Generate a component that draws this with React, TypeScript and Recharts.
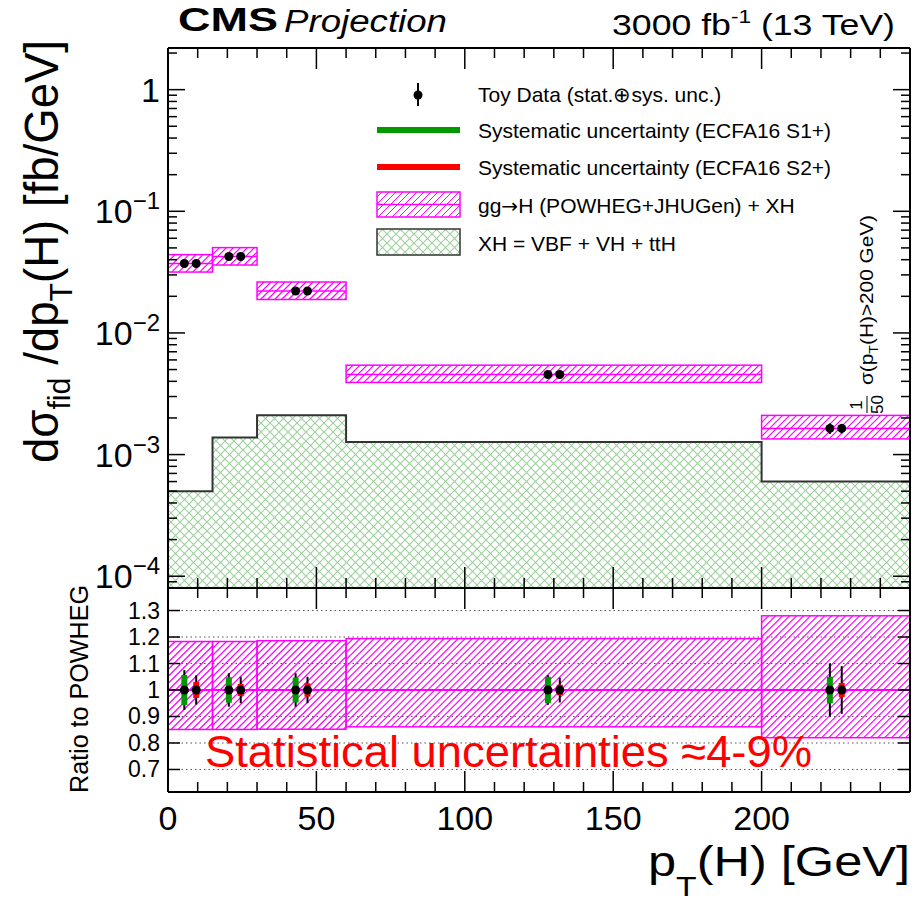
import React from "react";
import {
  ComposedChart, XAxis, YAxis, Line, Scatter, ErrorBar,
  ReferenceArea, ReferenceLine, CartesianGrid,
} from "recharts";

// pT(H) bins [GeV]; the last bin is the >200 GeV overflow drawn as 200-250
const binLo = [0, 15, 30, 60, 200];
const binHi = [15, 30, 60, 200, 250];

// gg->H (POWHEG+JHUGen) + XH [fb/GeV] and its relative band
const powheg = [0.0372, 0.0425, 0.0221, 0.00455, 0.00164];
const bandUp = [1.183, 1.183, 1.186, 1.194, 1.28];
const bandDown = [0.851, 0.851, 0.852, 0.861, 0.82];

// XH = VBF + VH + ttH [fb/GeV]
const xh = [0.0005, 0.00138, 0.00211, 0.00127, 0.0006];

// toy data, ratio to POWHEG, with total and systematic uncertainties
const s1Ratio = [1, 1, 1, 1, 1];
const s2Ratio = [1, 1, 1, 1, 1];
const s1Total = [0.075, 0.063, 0.063, 0.056, 0.1];
const s1Sys = [0.057, 0.048, 0.047, 0.05, 0.05];
const s2Total = [0.055, 0.05, 0.05, 0.047, 0.09];
const s2Sys = [0.03, 0.023, 0.025, 0.02, 0.027];

// ticks
const xTicks = [0, 10, 20, 30, 40, 50, 60, 70, 80, 90, 100, 110, 120, 130, 140, 150, 160, 170, 180, 190, 200, 210, 220, 230, 240, 250];
const xTickLabels = [0, 50, 100, 150, 200];
const yDecades = [1e-5, 1e-4, 1e-3, 1e-2, 1e-1, 1];
const yMantissas = [1, 2, 3, 4, 5, 6, 7, 8, 9];
const ratioTicks = [0.7, 0.8, 0.9, 1, 1.1, 1.2, 1.3];
const ratioTickLabels = ["0.7", "0.8", "0.9", "1", "1.1", "1.2", "1.3"];

const Y_MIN = 8e-5;
const Y_MAX = 2.2;
const R_MIN = 0.615;
const R_MAX = 1.385;
const SHIFT = 2; // S1 / S2 points are drawn side by side in each bin

const FONT = "'Liberation Sans', Arial, Helvetica, sans-serif";
const MAGENTA = "#ff00ff";
const GREEN = "#009a00";
const RED = "#ff0000";

const yTicks: number[] = [];
yDecades.forEach((d) => yMantissas.forEach((m) => {
  const v = d * m;
  if (v >= Y_MIN && v <= Y_MAX) yTicks.push(v);
}));

const centers = binLo.map((lo, i) => (lo + binHi[i]) / 2);
const xhLine = [...binLo.map((lo, i) => ({ x: lo, y: xh[i] })), { x: binHi[binHi.length - 1], y: xh[xh.length - 1] }];

const upperS1 = centers.map((c, i) => ({ x: c - SHIFT, y: powheg[i] * s1Ratio[i], err: powheg[i] * s1Total[i] }));
const upperS2 = centers.map((c, i) => ({ x: c + SHIFT, y: powheg[i] * s2Ratio[i], err: powheg[i] * s2Total[i] }));
const ratioS1 = centers.map((c, i) => ({ x: c - SHIFT, y: s1Ratio[i], tot: s1Total[i], sys: s1Sys[i] }));
const ratioS2 = centers.map((c, i) => ({ x: c + SHIFT, y: s2Ratio[i], tot: s2Total[i], sys: s2Sys[i] }));

const isDecade = (v: number) => {
  const l = Math.log10(v);
  return Math.abs(l - Math.round(l)) < 1e-6;
};

const xTick = (dir: number, labels: boolean) => (p: any) => {
  const v = p.payload.value;
  const major = v % 50 === 0;
  return (
    <g>
      <line x1={p.x} x2={p.x} y1={p.y} y2={p.y + dir * (major ? 21 : 10)} stroke="#000" strokeWidth={1.5} />
      {labels && xTickLabels.includes(v) && (
        <text x={p.x} y={p.y + 38} textAnchor="middle" fontSize={34} fontFamily={FONT} fill="#000">{v}</text>
      )}
    </g>
  );
};

const logTick = (dir: number, labels: boolean) => (p: any) => {
  const v = p.payload.value;
  const dec = isDecade(v);
  const e = Math.round(Math.log10(v));
  return (
    <g>
      <line x1={p.x} x2={p.x + dir * (dec ? 17 : 9)} y1={p.y} y2={p.y} stroke="#000" strokeWidth={1.5} />
      {labels && dec && (
        <text x={p.x - 8} y={p.y + 12} textAnchor="end" fontSize={34} fontFamily={FONT} fill="#000">
          {e === 0 ? "1" : <>10<tspan dy={-14} fontSize={24}>{"\u2212" + -e}</tspan></>}
        </text>
      )}
    </g>
  );
};

const ratioTick = (dir: number, labels: boolean) => (p: any) => {
  const i = ratioTicks.indexOf(p.payload.value);
  return (
    <g>
      <line x1={p.x} x2={p.x + dir * 12} y1={p.y} y2={p.y} stroke="#000" strokeWidth={1.5} />
      {labels && i >= 0 && (
        <text x={p.x - 8} y={p.y + 8} textAnchor="end" fontSize={23} fontFamily={FONT} fill="#000">{ratioTickLabels[i]}</text>
      )}
    </g>
  );
};

// hatched box: 45 degree lines cut to the rectangle Recharts computes for the area
const hatchBox = (step: number) => (p: any) => {
  const x = Math.min(p.x, p.x + p.width);
  const y = Math.min(p.y, p.y + p.height);
  const w = Math.abs(p.width);
  const h = Math.abs(p.height);
  const lines = [];
  for (let k = -h; k < w; k += step) {
    const s0 = Math.max(0, -k);
    const s1 = Math.min(h, w - k);
    if (s1 <= s0) continue;
    lines.push(
      <line key={lines.length} x1={x + k + s0} y1={y + h - s0} x2={x + k + s1} y2={y + h - s1}
        stroke={MAGENTA} strokeWidth={1.2} />
    );
  }
  return (
    <g>
      {lines}
      <rect x={x} y={y} width={w} height={h} fill="none" stroke={MAGENTA} strokeWidth={1.5} />
    </g>
  );
};

const dot = (p: any) => <circle cx={p.cx} cy={p.cy} r={4.5} fill="#000" />;
const none = () => <g />;
const axisLine = { stroke: "#000", strokeWidth: 2 };

function UpperPanel() {
  return (
    <ComposedChart width={914} height={600} margin={{ top: 47, right: 3, bottom: 11, left: 167 }}>
      <XAxis xAxisId={0} type="number" dataKey="x" domain={[0, 250]} allowDataOverflow ticks={xTicks} interval={0}
        height={1} tickSize={0} tickMargin={0} tickLine={false} axisLine={axisLine} tick={xTick(-1, false)} />
      <XAxis xAxisId="top" orientation="top" type="number" dataKey="x" domain={[0, 250]} allowDataOverflow ticks={xTicks} interval={0}
        height={1} tickSize={0} tickMargin={0} tickLine={false} axisLine={axisLine} tick={xTick(1, false)} />
      <YAxis yAxisId={0} type="number" dataKey="y" scale="log" domain={[Y_MIN, Y_MAX]} allowDataOverflow ticks={yTicks} interval={0}
        width={1} tickSize={0} tickMargin={0} tickLine={false} axisLine={axisLine} tick={logTick(1, true)} />
      <YAxis yAxisId="right" orientation="right" type="number" dataKey="y" scale="log" domain={[Y_MIN, Y_MAX]} allowDataOverflow ticks={yTicks} interval={0}
        width={1} tickSize={0} tickMargin={0} tickLine={false} axisLine={axisLine} tick={logTick(-1, false)} />

      {binLo.map((lo, i) => (
        <ReferenceArea key={"xh" + i} x1={lo} x2={binHi[i]} y1={Y_MIN} y2={xh[i]}
          fill="url(#hatchG)" fillOpacity={1} stroke="none" ifOverflow="visible" />
      ))}
      <Line data={xhLine} dataKey="y" type="stepAfter" stroke="#333" strokeWidth={2} dot={false} isAnimationActive={false} />

      {binLo.map((lo, i) => (
        <ReferenceArea key={"pw" + i} x1={lo} x2={binHi[i]} y1={powheg[i] * bandDown[i]} y2={powheg[i] * bandUp[i]}
          shape={hatchBox(7)} ifOverflow="visible" />
      ))}
      {binLo.map((lo, i) => (
        <ReferenceLine key={"pc" + i} segment={[{ x: lo, y: powheg[i] }, { x: binHi[i], y: powheg[i] }]}
          stroke={MAGENTA} strokeWidth={1.5} ifOverflow="visible" />
      ))}

      <Scatter data={upperS1} shape={dot} isAnimationActive={false}>
        <ErrorBar dataKey="err" direction="y" width={0} stroke="#000" strokeWidth={2} isAnimationActive={false} />
      </Scatter>
      <Scatter data={upperS2} shape={dot} isAnimationActive={false}>
        <ErrorBar dataKey="err" direction="y" width={0} stroke="#000" strokeWidth={2} isAnimationActive={false} />
      </Scatter>
    </ComposedChart>
  );
}

function RatioPanel() {
  return (
    <ComposedChart width={914} height={340} margin={{ top: 27, right: 3, bottom: 107, left: 167 }}>
      <CartesianGrid vertical={false} stroke="#555" strokeDasharray="1.5 3" />
      <XAxis xAxisId={0} type="number" dataKey="x" domain={[0, 250]} allowDataOverflow ticks={xTicks} interval={0}
        height={1} tickSize={0} tickMargin={0} tickLine={false} axisLine={axisLine} tick={xTick(-1, true)} />
      <XAxis xAxisId="top" orientation="top" type="number" dataKey="x" domain={[0, 250]} allowDataOverflow ticks={xTicks} interval={0}
        height={1} tickSize={0} tickMargin={0} tickLine={false} axisLine={axisLine} tick={xTick(1, false)} />
      <YAxis yAxisId={0} type="number" dataKey="y" domain={[R_MIN, R_MAX]} allowDataOverflow ticks={ratioTicks} interval={0}
        width={1} tickSize={0} tickMargin={0} tickLine={false} axisLine={axisLine} tick={ratioTick(1, true)} />
      <YAxis yAxisId="right" orientation="right" type="number" dataKey="y" domain={[R_MIN, R_MAX]} allowDataOverflow ticks={ratioTicks} interval={0}
        width={1} tickSize={0} tickMargin={0} tickLine={false} axisLine={axisLine} tick={ratioTick(-1, false)} />

      {binLo.map((lo, i) => (
        <ReferenceArea key={"rb" + i} x1={lo} x2={binHi[i]} y1={bandDown[i]} y2={bandUp[i]}
          shape={hatchBox(7)} ifOverflow="visible" />
      ))}
      <ReferenceLine y={1} stroke={MAGENTA} strokeWidth={2} />

      <Scatter data={ratioS1} shape={none} isAnimationActive={false}>
        <ErrorBar dataKey="tot" direction="y" width={0} stroke="#000" strokeWidth={2} isAnimationActive={false} />
        <ErrorBar dataKey="sys" direction="y" width={0} stroke={GREEN} strokeWidth={6} isAnimationActive={false} />
      </Scatter>
      <Scatter data={ratioS2} shape={none} isAnimationActive={false}>
        <ErrorBar dataKey="tot" direction="y" width={0} stroke="#000" strokeWidth={2} isAnimationActive={false} />
        <ErrorBar dataKey="sys" direction="y" width={0} stroke={RED} strokeWidth={6} isAnimationActive={false} />
      </Scatter>
      <Scatter data={ratioS1} shape={dot} isAnimationActive={false} />
      <Scatter data={ratioS2} shape={dot} isAnimationActive={false} />
    </ComposedChart>
  );
}

function Overlay() {
  const legendText = { fontSize: 21, fontFamily: FONT, fill: "#000" } as const;
  return (
    <svg width={914} height={906} style={{ position: "absolute", left: 0, top: 0, pointerEvents: "none" }} fontFamily={FONT}>
      <defs>
        <pattern id="hatchM" patternUnits="userSpaceOnUse" width={7} height={7}>
          <path d="M-1,1 L1,-1 M0,7 L7,0 M6,8 L8,6" stroke={MAGENTA} strokeWidth={1} fill="none" />
        </pattern>
        <pattern id="hatchG" patternUnits="userSpaceOnUse" width={9} height={9}>
          <path d="M0,0 L9,9 M9,0 L0,9" stroke="#9dcf9d" strokeWidth={1.1} fill="none" />
        </pattern>
      </defs>

      <text x={178} y={31} fontSize={34} fontWeight="bold" textLength={100} lengthAdjust="spacingAndGlyphs">CMS</text>
      <text x={284} y={32} fontSize={31} fontStyle="italic" textLength={163} lengthAdjust="spacingAndGlyphs">Projection</text>
      <text x={612} y={35} fontSize={30} textLength={283} lengthAdjust="spacingAndGlyphs">
        3000 fb<tspan dy={-12} fontSize={19}>-1</tspan><tspan dy={12}> (13 TeV)</tspan>
      </text>

      <g transform="translate(58,463) rotate(-90)">
        <text x={0} y={0} fontSize={48} textLength={423} lengthAdjust="spacingAndGlyphs">
          d{"\u03c3"}<tspan dy={12} fontSize={32}>fid</tspan><tspan dy={-12}> /dp</tspan><tspan dy={14} fontSize={32}>T</tspan><tspan dy={-14}>(H) [fb/GeV]</tspan>
        </text>
      </g>
      <g transform="translate(88,793) rotate(-90)">
        <text x={0} y={0} fontSize={25} textLength={208} lengthAdjust="spacingAndGlyphs">Ratio to POWHEG</text>
      </g>
      <text x={648} y={876} fontSize={42} textLength={262} lengthAdjust="spacingAndGlyphs">
        p<tspan dy={20} fontSize={28}>T</tspan><tspan dy={-20}>(H) [GeV]</tspan>
      </text>

      <g transform="translate(868,413) rotate(-90)">
        <text x={8} y={-6} fontSize={17} textAnchor="middle">1</text>
        <line x1={0} x2={17} y1={-1} y2={-1} stroke="#000" strokeWidth={1} />
        <text x={8.5} y={15} fontSize={17} textAnchor="middle">50</text>
        <text x={28} y={5} fontSize={19} textLength={170} lengthAdjust="spacingAndGlyphs">
          {"\u03c3"}(p<tspan dy={5} fontSize={13}>T</tspan><tspan dy={-5}>(H)&gt;200 GeV)</tspan>
        </text>
      </g>

      {/* legend */}
      <line x1={418} x2={418} y1={83} y2={106} stroke="#000" strokeWidth={2} />
      <circle cx={418} cy={95} r={4.5} fill="#000" />
      <text x={478} y={102} {...legendText}>Toy Data (stat.{"\u2295"}sys. unc.)</text>

      <line x1={377} x2={460} y1={130} y2={130} stroke={GREEN} strokeWidth={6} />
      <text x={478} y={138} {...legendText}>Systematic uncertainty (ECFA16 S1+)</text>

      <line x1={377} x2={460} y1={167} y2={167} stroke={RED} strokeWidth={6} />
      <text x={478} y={175} {...legendText}>Systematic uncertainty (ECFA16 S2+)</text>

      <rect x={377} y={192} width={83} height={25} fill="url(#hatchM)" stroke={MAGENTA} strokeWidth={1.5} />
      <line x1={377} x2={460} y1={204.5} y2={204.5} stroke={MAGENTA} strokeWidth={1.5} />
      <text x={478} y={213} {...legendText}>
        gg<tspan fontFamily="'DejaVu Sans'" fontSize={20}>{"\u2192"}</tspan>H (POWHEG+JHUGen) + XH
      </text>

      <rect x={377} y={229} width={83} height={26} fill="url(#hatchG)" stroke="#333" strokeWidth={1.5} />
      <text x={478} y={251} {...legendText}>XH = VBF + VH + ttH</text>

      <text x={205} y={767} fontSize={45} fill={RED} textLength={607} lengthAdjust="spacingAndGlyphs">
        Statistical uncertainties {"\u2248"}4-9%
      </text>
    </svg>
  );
}

export default function App() {
  return (
    <div style={{ position: "absolute", left: 0, top: 0, width: 914, height: 906, background: "#fff", fontFamily: FONT }}>
      <div style={{ position: "absolute", left: 0, top: 0 }}>
        <UpperPanel />
      </div>
      <div style={{ position: "absolute", left: 0, top: 560 }}>
        <RatioPanel />
      </div>
      <Overlay />
    </div>
  );
}
